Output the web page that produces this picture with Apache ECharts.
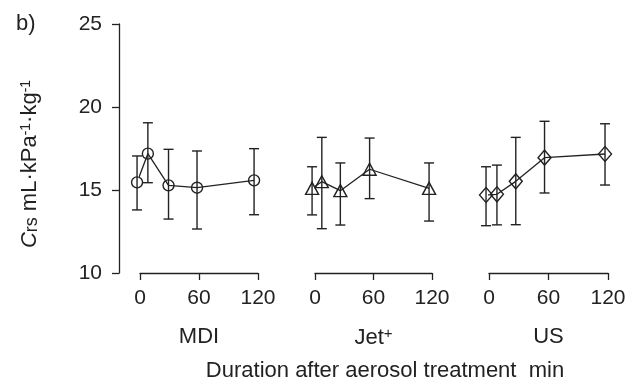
<!DOCTYPE html>
<html>
<head>
<meta charset="utf-8">
<script src="https://cdn.jsdelivr.net/npm/echarts@6/dist/echarts.min.js"></script>
<style>
  html, body { margin: 0; padding: 0; background: #fff; }
  #main { width: 635px; height: 383px; }
</style>
</head>
<body>
<div id="main"></div>
<script>
var FONT = "'Liberation Sans', Arial, sans-serif";
var INK = "#222";

// sampling times (min after aerosol), per panel
var mdiTimes = [-3, 8, 29, 58, 116];
var jetTimes = [-3, 7, 26, 56, 117];
var usTimes = [-3, 8, 27, 56, 117];

// Crs mean and error bar ends (mL·kPa-1·kg-1)
var mdiMean = [15.46, 17.19, 15.28, 15.14, 15.58];
var mdiUpper = [17.05, 19.05, 17.45, 17.35, 17.49];
var mdiLower = [13.8, 15.44, 13.25, 12.65, 13.51];

var jetMean = [15.1, 15.5, 14.96, 16.25, 15.1];
var jetUpper = [16.4, 18.17, 16.63, 18.13, 16.63];
var jetLower = [13.5, 12.67, 12.89, 14.48, 13.13];

var usMean = [14.7, 14.74, 15.52, 16.95, 17.17];
var usUpper = [16.4, 16.5, 18.17, 19.14, 18.99];
var usLower = [12.85, 12.9, 12.91, 14.82, 15.3];

var xTicks = [0, 60, 120];
var yTicks = [10, 15, 20, 25];
var panelNames = ["MDI", "{a|Jet}{p|+}", "US"];

var chart = echarts.init(document.getElementById("main"));

function errorBars(idx, times, lower, upper) {
  return {
    type: "custom",
    xAxisIndex: idx,
    yAxisIndex: idx,
    clip: false,
    silent: true,
    data: times.map(function (t, i) { return [t, lower[i], upper[i]]; }),
    renderItem: function (params, api) {
      var lo = api.coord([api.value(0), api.value(1)]);
      var hi = api.coord([api.value(0), api.value(2)]);
      var w = 5;
      var st = { stroke: INK, lineWidth: 1.4 };
      return {
        type: "group",
        children: [
          { type: "line", shape: { x1: lo[0], y1: lo[1], x2: hi[0], y2: hi[1] }, style: st },
          { type: "line", shape: { x1: lo[0] - w, y1: lo[1], x2: lo[0] + w, y2: lo[1] }, style: st },
          { type: "line", shape: { x1: hi[0] - w, y1: hi[1], x2: hi[0] + w, y2: hi[1] }, style: st }
        ]
      };
    }
  };
}

function meanLine(idx, times, mean, symbol, size) {
  return {
    type: "line",
    xAxisIndex: idx,
    yAxisIndex: idx,
    clip: false,
    silent: true,
    z: 3,
    data: times.map(function (t, i) { return [t, mean[i]]; }),
    symbol: symbol,
    symbolSize: size,
    showAllSymbol: true,
    itemStyle: { color: "rgba(0,0,0,0)", borderColor: INK, borderWidth: 1.4 },
    lineStyle: { color: INK, width: 1.3 },
    emphasis: { disabled: true }
  };
}

var grids = [
  { left: 140, width: 118, top: 24, height: 249 },
  { left: 315, width: 117, top: 24, height: 249 },
  { left: 489, width: 119, top: 24, height: 249 }
];

var xAxes = grids.map(function (g, i) {
  return {
    type: "value",
    gridIndex: i,
    min: xTicks[0],
    max: xTicks[xTicks.length - 1],
    interval: xTicks[1] - xTicks[0],
    name: panelNames[i],
    nameLocation: "middle",
    nameGap: 53,
    nameTextStyle: {
      fontFamily: FONT, fontSize: 22, color: INK,
      rich: {
        a: { fontFamily: FONT, fontSize: 22, color: INK },
        p: { fontFamily: FONT, fontSize: 15, color: INK, verticalAlign: "top", padding: [0, 0, 8, 0] }
      }
    },
    splitLine: { show: false },
    axisLine: { onZero: false, lineStyle: { color: INK, width: 1.3 } },
    axisTick: { length: 7, lineStyle: { color: INK, width: 1.3 } },
    axisLabel: { fontFamily: FONT, fontSize: 21, color: INK, margin: 15 }
  };
});

var yAxes = grids.map(function (g, i) {
  return {
    type: "value",
    gridIndex: i,
    min: yTicks[0],
    max: yTicks[yTicks.length - 1],
    interval: yTicks[1] - yTicks[0],
    show: i === 0,
    position: "left",
    offset: 21,
    splitLine: { show: false },
    axisLine: { show: true, onZero: false, lineStyle: { color: INK, width: 1.3 } },
    axisTick: { show: true, length: 7, lineStyle: { color: INK, width: 1.3 } },
    axisLabel: { fontFamily: FONT, fontSize: 21, color: INK, margin: 17 }
  };
});

chart.setOption({
  animation: false,
  backgroundColor: "#fff",
  grid: grids,
  xAxis: xAxes,
  yAxis: yAxes,
  graphic: [
    {
      type: "text", left: 16, top: 13,
      style: { text: "b)", fontFamily: FONT, fontSize: 22, fill: INK }
    },
    {
      type: "text", x: 30, y: 164, rotation: Math.PI / 2,
      style: {
        text: "{i|C}{s|rs} mL·kPa{p|-1}·kg{p|-1}",
        align: "center", verticalAlign: "middle",
        fontFamily: FONT, fontSize: 22, fill: INK,
        rich: {
          i: { fontFamily: FONT, fontSize: 22, fontStyle: "italic", fill: INK },
          s: { fontFamily: FONT, fontSize: 18, fill: INK, verticalAlign: "bottom" },
          p: { fontFamily: FONT, fontSize: 14, fill: INK, verticalAlign: "top", padding: [0, 0, 8, 0] }
        }
      }
    },
    {
      type: "text", x: 385, y: 371,
      style: {
        text: "Duration after aerosol treatment  min",
        align: "center", verticalAlign: "middle",
        fontFamily: FONT, fontSize: 22, fill: INK
      }
    }
  ],
  series: [
    errorBars(0, mdiTimes, mdiLower, mdiUpper),
    errorBars(1, jetTimes, jetLower, jetUpper),
    errorBars(2, usTimes, usLower, usUpper),
    meanLine(0, mdiTimes, mdiMean, "circle", 11),
    meanLine(1, jetTimes, jetMean, "triangle", [13, 12]),
    meanLine(2, usTimes, usMean, "diamond", [13, 15])
  ]
});
</script>
</body>
</html>
